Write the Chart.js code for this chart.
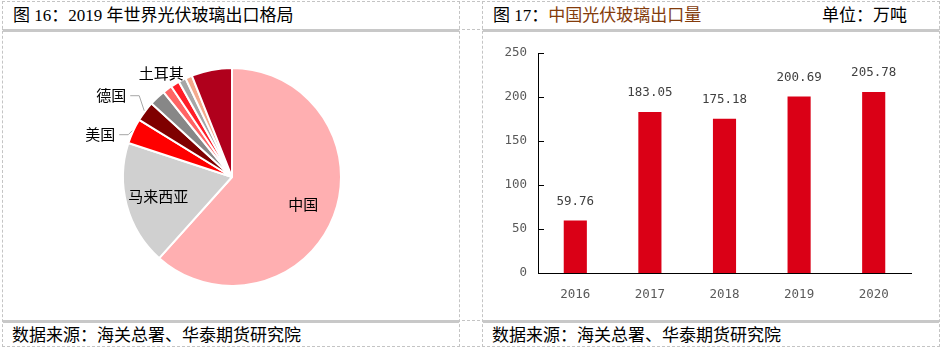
<!DOCTYPE html>
<html>
<head>
<meta charset="utf-8">
<script src="https://cdn.jsdelivr.net/npm/chart.js@4.4.0/dist/chart.umd.min.js"></script>
<style>
  body { margin: 0; width: 943px; height: 351px; background: #fff; position: relative; overflow: hidden; }
  .hl { position: absolute; left: 2px; width: 938px; height: 0; border-top: 1px dashed #c4c4c4; }
  .vl { position: absolute; top: 1px; height: 346px; width: 0; border-left: 1px dashed #c4c4c4; }
  .bar { position: absolute; height: 3px; background: #c8c8c8; }
  .title { position: absolute; top: 4px; font: 17px "Liberation Serif", "Noto Sans CJK SC", serif; color: #000; white-space: nowrap; line-height: 23px; }
  .foot { position: absolute; top: 322px; font: 17px "Noto Sans CJK SC", sans-serif; color: #000; white-space: nowrap; line-height: 23px; }
  canvas { position: absolute; }
</style>
</head>
<body>
<div class="hl" style="top:1px"></div>
<div class="hl" style="top:29px"></div>
<div class="hl" style="top:320px"></div>
<div class="hl" style="top:346px"></div>
<div class="vl" style="left:2px"></div>
<div class="vl" style="left:459px"></div>
<div class="vl" style="left:482px"></div>
<div class="vl" style="left:939px"></div>
<div class="bar" style="left:3px;width:456px;top:29px"></div>
<div class="bar" style="left:483px;width:456px;top:29px"></div>
<div class="bar" style="left:3px;width:456px;top:320px"></div>
<div class="bar" style="left:483px;width:456px;top:320px"></div>

<div class="title" style="left:13px">图 16：2019 年世界光伏玻璃出口格局</div>
<div class="title" style="left:493px">图 17：<span style="color:#843c0c">中国光伏玻璃出口量</span></div>
<div class="title" style="left:822px">单位：万吨</div>
<div class="foot" style="left:12px">数据来源：海关总署、华泰期货研究院</div>
<div class="foot" style="left:492px">数据来源：海关总署、华泰期货研究院</div>

<canvas id="pieChart" style="left:3px;top:32px" width="456" height="288"></canvas>
<canvas id="barChart" style="left:483px;top:32px" width="456" height="288"></canvas>

<script>
// 2019 export share (%)
const countries = ['中国', '马来西亚', '美国', '德国', '', '土耳其', '', '', '', '']
const shares = [61.6, 18.4, 3.75, 3.0, 2.4, 1.4, 1.3, 1.1, 1.0, 6.0]

// China exports, 万吨
const years = ['2016', '2017', '2018', '2019', '2020']
const exportsVol = [59.76, 183.05, 175.18, 200.69, 205.78]
const yTicks = [0, 50, 100, 150, 200, 250]

const sliceColors = ['#ffafb1', '#d0d0d0', '#ff0000', '#7f0000', '#878787', '#ff6464', '#ff1e28', '#a6a6a6', '#f4aa8c', '#b0001c']
const monoFont = 'DejaVu Sans Mono'

// PIE

const pieLabels = {
  id: 'pieLabels',
  afterDatasetsDraw(chart) {
    const ctx = chart.ctx
    const arcs = chart.getDatasetMeta(0).data
    ctx.save()
    ctx.font = '15px "Noto Sans CJK SC"'
    ctx.fillStyle = '#000'
    ctx.strokeStyle = '#a6a6a6'
    ctx.lineWidth = 1
    ctx.textBaseline = 'middle'
    arcs.forEach((arc, i) => {
      const name = countries[i]
      if (!name) return
      const p = arc.getProps(['x', 'y', 'startAngle', 'endAngle', 'outerRadius'], true)
      const mid = (p.startAngle + p.endAngle) / 2
      const at = r => [p.x + Math.cos(mid) * r, p.y + Math.sin(mid) * r]
      if (i < 2) {
        const [x, y] = at(p.outerRadius * 0.7)
        ctx.textAlign = 'center'
        ctx.fillText(name, x, y)
      } else if (name === '土耳其') {
        const [x, y] = at(p.outerRadius + 17)
        ctx.textAlign = 'center'
        ctx.fillText(name, x + 4, y - 2)
      } else {
        // leader line: edge -> elbow -> horizontal
        const [sx, sy] = at(p.outerRadius + 1)
        const elbow = name === '美国' ? [sx - 4, sy + 4] : [sx - 5, sy - 15]
        const end = [elbow[0] - 9, elbow[1]]
        ctx.beginPath()
        ctx.moveTo(sx, sy)
        ctx.lineTo(elbow[0], elbow[1])
        ctx.lineTo(end[0], end[1])
        ctx.stroke()
        ctx.textAlign = 'right'
        ctx.fillText(name, end[0] - 4, end[1])
      }
    })
    ctx.restore()
  }
}

new Chart(document.getElementById('pieChart'), {
  type: 'pie',
  data: {
    labels: countries,
    datasets: [{
      data: shares,
      backgroundColor: sliceColors,
      borderColor: '#fff',
      borderWidth: 2
    }]
  },
  options: {
    responsive: false,
    animation: false,
    radius: 109,
    layout: { padding: { left: 2, top: 2 } },
    plugins: { legend: { display: false }, tooltip: { enabled: false } }
  },
  plugins: [pieLabels]
})

// BAR

const barExtras = {
  id: 'barExtras',
  afterDraw(chart) {
    const ctx = chart.ctx
    const y = chart.scales.y
    const area = chart.chartArea
    ctx.save()
    // inside tick marks on value axis
    ctx.strokeStyle = '#000'
    ctx.lineWidth = 1
    yTicks.forEach(v => {
      const py = Math.round(y.getPixelForValue(v)) + 0.5
      ctx.beginPath()
      ctx.moveTo(area.left, py)
      ctx.lineTo(area.left + 6, py)
      ctx.stroke()
    })
    // value labels
    ctx.fillStyle = '#404040'
    ctx.font = '12.5px "' + monoFont + '"'
    ctx.textAlign = 'center'
    ctx.textBaseline = 'middle'
    chart.getDatasetMeta(0).data.forEach((bar, i) => {
      ctx.fillText(exportsVol[i].toFixed(2), bar.x, bar.y - 19)
    })
    ctx.restore()
  }
}

new Chart(document.getElementById('barChart'), {
  type: 'bar',
  data: {
    labels: years,
    datasets: [{
      data: exportsVol,
      backgroundColor: '#da0016',
      categoryPercentage: 1,
      barPercentage: 0.31
    }]
  },
  options: {
    responsive: false,
    animation: false,
    layout: { padding: { top: 21, right: 28 } },
    plugins: { legend: { display: false }, tooltip: { enabled: false } },
    scales: {
      x: {
        grid: { display: false },
        border: { color: '#000' },
        ticks: { color: '#595959', font: { family: monoFont, size: 12.5 }, padding: 6 },
        afterFit(scale) { scale.height = 47 }
      },
      y: {
        min: 0,
        max: 250,
        grid: { display: false },
        border: { color: '#000' },
        ticks: { stepSize: 50, color: '#595959', font: { family: monoFont, size: 12.5 }, padding: 3 },
        afterFit(scale) { scale.width = 55 }
      }
    }
  },
  plugins: [barExtras]
})
</script>
</body>
</html>
